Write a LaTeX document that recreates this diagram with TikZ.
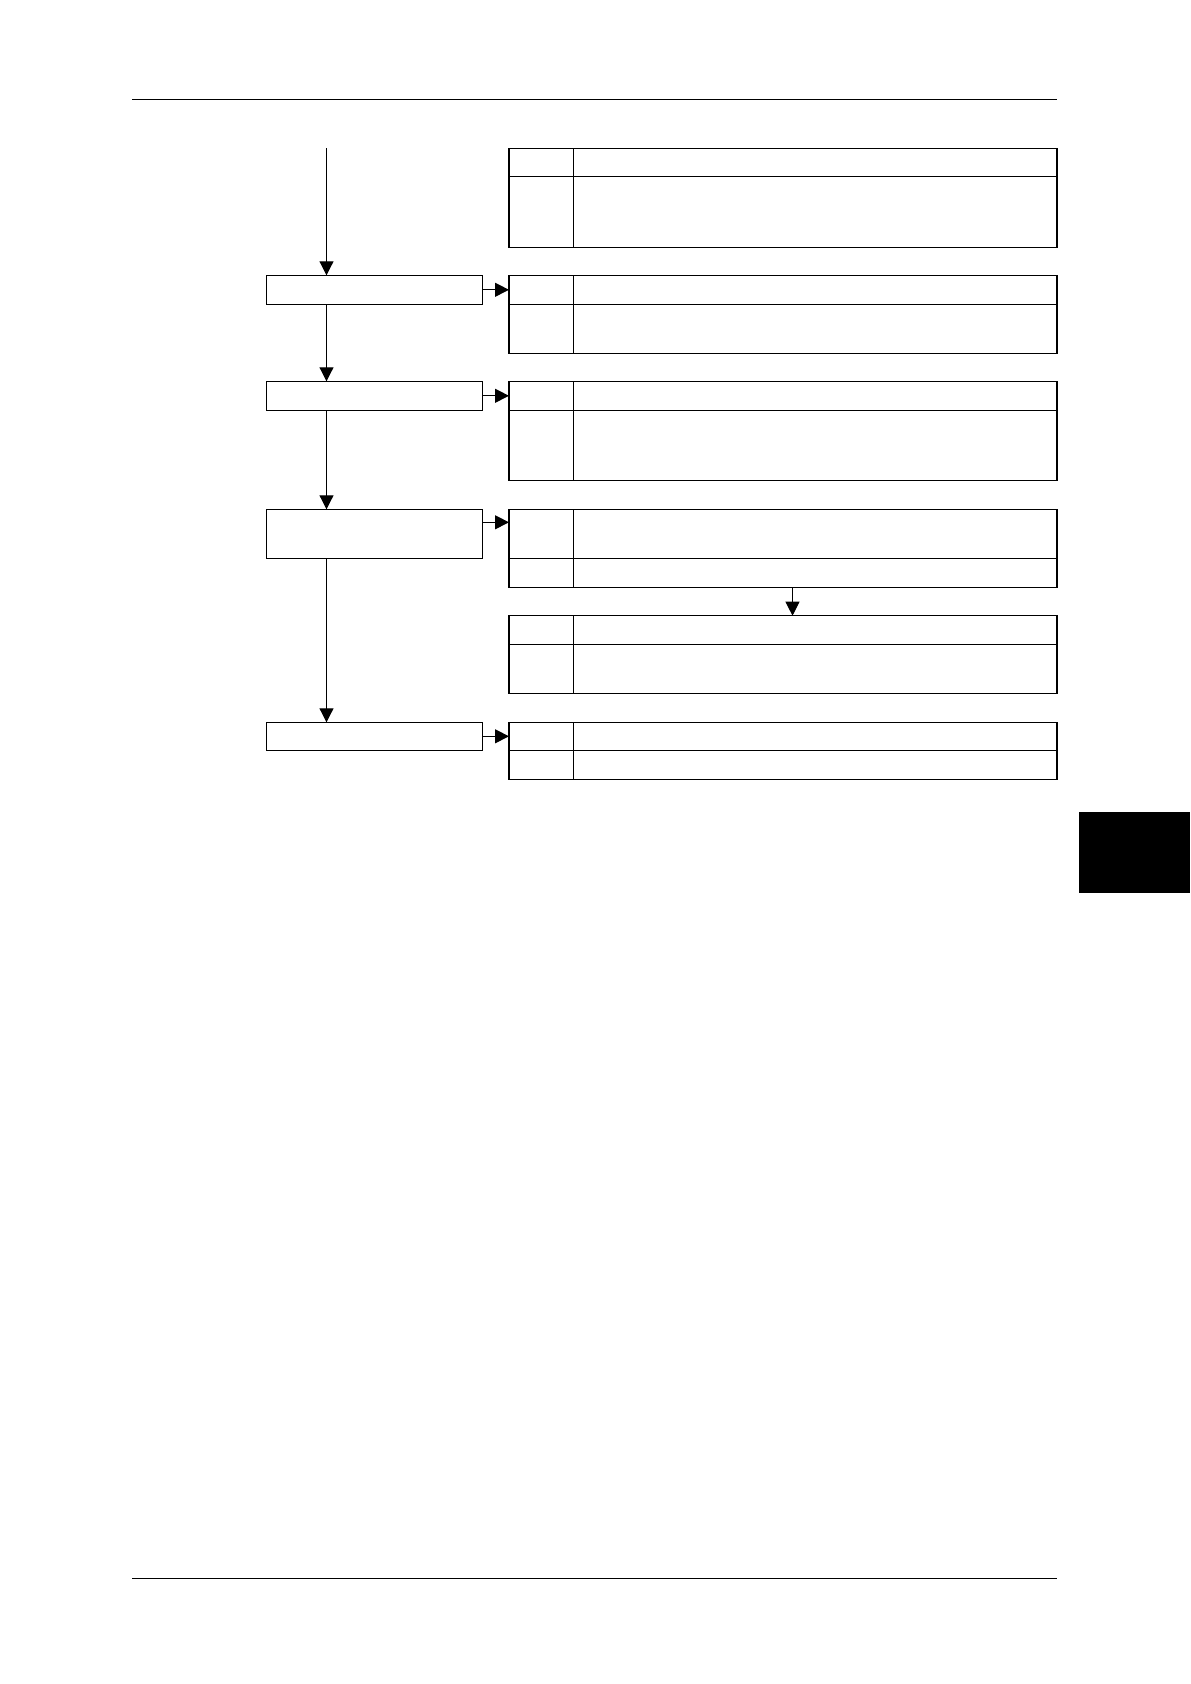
\documentclass[tikz,border=0pt]{standalone}
\usetikzlibrary{arrows.meta}
\begin{document}
\begin{tikzpicture}[x=0.5pt,y=-0.5pt,
  box/.style={draw, line width=0.6pt, rectangle, inner sep=0pt, outer sep=0pt, anchor=north west},
  lbox/.style={box, minimum width=108pt},
  lab/.style={box, minimum width=32.25pt},
  txt/.style={box, minimum width=241.75pt},
  flow/.style={-{Triangle[length=7pt,width=7pt]}, line width=0.5pt},
  rule/.style={line width=0.5pt}
]
\useasboundingbox (0,0) rectangle (1190,1684);
% page rules and tab
\draw[rule] (132,100) -- (1057,100);
\draw[rule] (132,1578) -- (1057,1578);
\fill (1079,812) rectangle (1190,893);

% left process boxes
\node[lbox, minimum height=14.5pt] (b1) at (266.5,275.3) {};
\node[lbox, minimum height=14.5pt] (b2) at (266.5,381.3) {};
\node[lbox, minimum height=24.5pt] (b3) at (266.5,509.3) {};
\node[lbox, minimum height=14pt]   (b4) at (266.5,722.3) {};

% table 1
\node[lab, minimum height=14pt]   (t1a) at (509,148.3) {};
\node[txt, minimum height=14pt]   (t1b) at (573.5,148.3) {};
\node[lab, minimum height=35.5pt] (t1c) at (509,176.3) {};
\node[txt, minimum height=35.5pt] (t1d) at (573.5,176.3) {};
% table 2
\node[lab, minimum height=14.5pt] (t2a) at (509,275.3) {};
\node[txt, minimum height=14.5pt] (t2b) at (573.5,275.3) {};
\node[lab, minimum height=24.5pt] (t2c) at (509,304.3) {};
\node[txt, minimum height=24.5pt] (t2d) at (573.5,304.3) {};
% table 3
\node[lab, minimum height=14.5pt] (t3a) at (509,381.3) {};
\node[txt, minimum height=14.5pt] (t3b) at (573.5,381.3) {};
\node[lab, minimum height=35pt]   (t3c) at (509,410.3) {};
\node[txt, minimum height=35pt]   (t3d) at (573.5,410.3) {};
% table 4
\node[lab, minimum height=24.5pt] (t4a) at (509,509.3) {};
\node[txt, minimum height=24.5pt] (t4b) at (573.5,509.3) {};
\node[lab, minimum height=14.5pt] (t4c) at (509,558.3) {};
\node[txt, minimum height=14.5pt] (t4d) at (573.5,558.3) {};
% table 5
\node[lab, minimum height=14.3pt] (t5a) at (509,615.7) {};
\node[txt, minimum height=14.3pt] (t5b) at (573.5,615.7) {};
\node[lab, minimum height=24.5pt] (t5c) at (509,644.3) {};
\node[txt, minimum height=24.5pt] (t5d) at (573.5,644.3) {};
% table 6
\node[lab, minimum height=14pt]   (t6a) at (509,722.3) {};
\node[txt, minimum height=14pt]   (t6b) at (573.5,722.3) {};
\node[lab, minimum height=14.5pt] (t6c) at (509,750.3) {};
\node[txt, minimum height=14.5pt] (t6d) at (573.5,750.3) {};

% main vertical flow
\coordinate (start) at (326.5,148.3);
\draw[flow] (start) -- (start |- b1.north);
\draw[flow] (b1.south -| start) -- (b2.north -| start);
\draw[flow] (b2.south -| start) -- (b3.north -| start);
\draw[flow] (b3.south -| start) -- (b4.north -| start);

% horizontal arrows to tables
\draw[flow] (b1.east) -- (b1.east -| t2a.west);
\draw[flow] (b2.east) -- (b2.east -| t3a.west);
\coordinate (b3out) at ([yshift=-6.5pt]b3.north east);
\draw[flow] (b3out) -- (b3out -| t4a.west);
\draw[flow] (b4.east) -- (b4.east -| t6a.west);

% table 4 to table 5
\coordinate (mid) at (792.5,0);
\draw[flow] (t4d.south -| mid) -- (t5b.north -| mid);
\end{tikzpicture}
\end{document}
